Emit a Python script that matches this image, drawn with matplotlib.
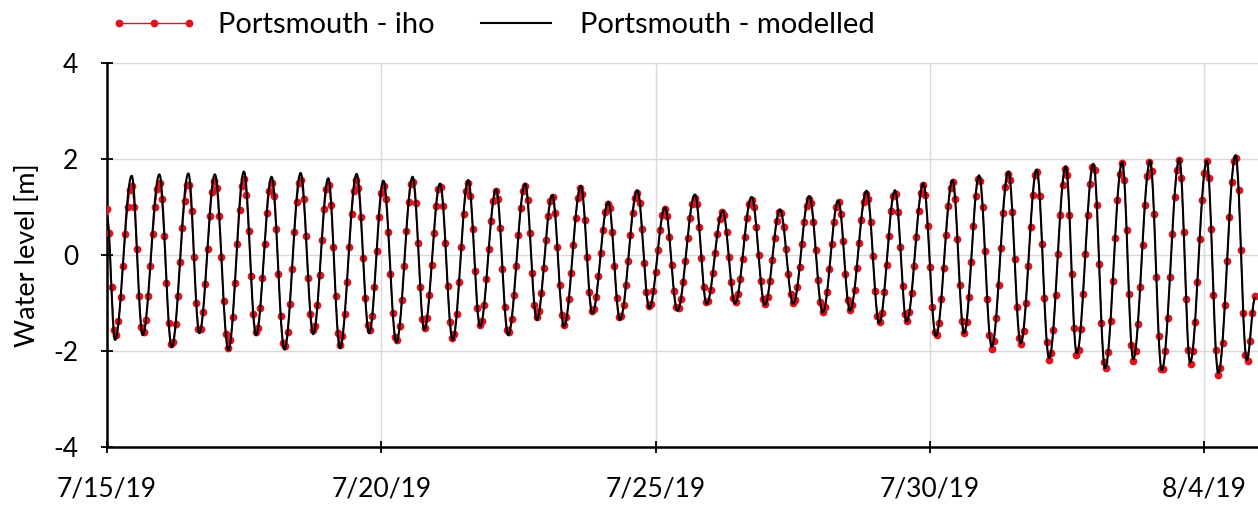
import numpy as np
import pandas as pd
import matplotlib
matplotlib.use("Agg")
import matplotlib.pyplot as plt
import matplotlib.dates as mdates
from matplotlib.ticker import FixedLocator, FuncFormatter

plt.rcParams["font.family"] = ["Lato", "DejaVu Sans"]
plt.rcParams["axes.unicode_minus"] = False

start = pd.Timestamp("2019-07-15 00:00")

# hours after 7/15 00:00
start_hour = 0.0
end_hour = 502.2
start_model, start_obs = 0.8, 0.95
end_model, end_obs = -0.9, -0.85

high_hours = [10.8, 22.9, 35.6, 47.2, 59.9, 72.0, 84.7, 96.8, 109.2, 120.9,
              133.7, 145.7, 158.0, 170.2, 182.9, 194.8, 207.3, 219.3, 232.0, 244.1,
              257.2, 269.3, 282.0, 294.4, 307.2, 319.9, 332.3, 344.7, 357.1, 369.9,
              381.5, 394.3, 406.7, 419.4, 431.5, 444.1, 456.3, 469.1, 481.1, 493.7]
high_model = [1.65, 1.68, 1.70, 1.68, 1.74, 1.63, 1.71, 1.60, 1.69, 1.55,
              1.63, 1.49, 1.56, 1.37, 1.49, 1.25, 1.44, 1.11, 1.35, 0.99,
              1.26, 0.92, 1.21, 0.95, 1.23, 1.13, 1.34, 1.35, 1.49, 1.56,
              1.66, 1.74, 1.78, 1.85, 1.90, 1.94, 1.96, 2.00, 1.96, 2.08]
high_obs = [1.45, 1.50, 1.52, 1.55, 1.58, 1.50, 1.58, 1.48, 1.56, 1.45,
            1.55, 1.45, 1.50, 1.33, 1.45, 1.22, 1.40, 1.08, 1.30, 0.95,
            1.20, 0.90, 1.15, 0.92, 1.18, 1.10, 1.28, 1.30, 1.45, 1.52,
            1.62, 1.70, 1.76, 1.82, 1.88, 1.92, 1.95, 1.98, 1.95, 2.06]

low_hours = [3.5, 15.6, 28.3, 40.4, 53.1, 65.2, 77.6, 90.2, 101.9, 114.7,
             126.6, 138.8, 151.2, 163.2, 175.5, 188.0, 199.9, 212.3, 224.4, 237.2,
             249.5, 262.3, 274.7, 287.8, 300.2, 313.1, 325.0, 337.8, 349.8, 362.6,
             374.9, 387.0, 399.7, 412.1, 424.2, 436.6, 448.9, 461.4, 473.8, 486.1,
             498.6]
low_model = [-1.77, -1.67, -1.92, -1.63, -1.98, -1.67, -1.97, -1.65, -1.94, -1.63,
             -1.82, -1.56, -1.77, -1.49, -1.67, -1.35, -1.49, -1.22, -1.35, -1.11,
             -1.16, -1.02, -1.01, -1.04, -1.02, -1.20, -1.16, -1.42, -1.39, -1.69,
             -1.63, -1.91, -1.84, -2.15, -2.05, -2.36, -2.17, -2.40, -2.24, -2.46,
             -2.19]
low_obs = [-1.70, -1.62, -1.88, -1.60, -1.93, -1.62, -1.92, -1.58, -1.88, -1.58,
           -1.80, -1.52, -1.75, -1.47, -1.63, -1.30, -1.45, -1.18, -1.32, -1.08,
           -1.12, -1.00, -0.98, -1.02, -1.00, -1.18, -1.15, -1.40, -1.38, -1.70,
           -1.62, -1.95, -1.88, -2.20, -2.10, -2.38, -2.22, -2.45, -2.28, -2.50,
           -2.25]

tick_labels_every_days = 5
y_ticks = [-4, -2, 0, 2, 4]


def extremes(first, highs, lows, last):
    t = np.array([start_hour] + high_hours + low_hours + [end_hour])
    v = np.array([first] + highs + lows + [last])
    order = np.argsort(t)
    return t[order], v[order]


def tide_curve(hours, t_ext, v_ext):
    # half-cosine between consecutive high / low waters
    idx = np.searchsorted(t_ext, hours, side="right") - 1
    idx = np.clip(idx, 0, len(t_ext) - 2)
    t0, t1 = t_ext[idx], t_ext[idx + 1]
    v0, v1 = v_ext[idx], v_ext[idx + 1]
    s = (hours - t0) / (t1 - t0)
    return v0 + (v1 - v0) * (1 - np.cos(np.pi * s)) / 2


t_mod, v_mod = extremes(start_model, high_model, low_model, end_model)
t_obs, v_obs = extremes(start_obs, high_obs, low_obs, end_obs)

hours_model = np.arange(start_hour, end_hour, 1 / 6)
hours_obs = np.arange(start_hour, end_hour, 1.0)
level_model = tide_curve(hours_model, t_mod, v_mod)
level_obs = tide_curve(hours_obs, t_obs, v_obs)

x_model = start + pd.to_timedelta(hours_model, unit="h")
x_obs = start + pd.to_timedelta(hours_obs, unit="h")

fig = plt.figure(figsize=(12.58, 5.09), dpi=100)
ax = fig.add_axes([107 / 1258, 1 - 447 / 509, 1 - 107 / 1258, (447 - 63) / 509])

ax.plot(x_obs, level_obs, color="#e0141e", lw=1.0, marker="o", ms=4.6,
        mec="#e0141e", mfc="#e0141e", label="Portsmouth - iho", zorder=3)
ax.plot(x_model, level_model, color="black", lw=1.5,
        label="Portsmouth - modelled", zorder=4)

x_end = start + pd.Timedelta(hours=(1258 - 107) / 2.286)
ax.set_xlim(start, x_end)
ax.set_ylim(-4, 4)

tick_dates = pd.date_range(start, periods=5, freq=f"{tick_labels_every_days}D")
ax.xaxis.set_major_locator(FixedLocator(mdates.date2num(tick_dates)))


def date_label(v, pos):
    d = mdates.num2date(v)
    return f"{d.month}/{d.day}/{d:%y}"


ax.xaxis.set_major_formatter(FuncFormatter(date_label))
ax.set_yticks(y_ticks)
ax.set_yticklabels([str(v) for v in y_ticks])

ax.grid(True, color="#d9d9d9", lw=1)
ax.set_axisbelow(True)
for side in ["top", "right"]:
    ax.spines[side].set_visible(False)
for side in ["left", "bottom"]:
    ax.spines[side].set_linewidth(1.8)
    ax.spines[side].set_color("black")

ax.tick_params(axis="both", direction="inout", length=9, width=1.3,
               labelsize=19, colors="black")
ax.tick_params(axis="y", pad=16)
ax.tick_params(axis="x", pad=17)

ax.set_ylabel("Water level [m]", fontsize=19.5)
ax.yaxis.set_label_coords(-0.058, 0.5)

fig.legend(loc="center left", bbox_to_anchor=(110 / 1258, 1 - 25 / 509),
           ncol=2, frameon=False, fontsize=21, numpoints=3,
           handlelength=3.0, handletextpad=0.7, columnspacing=1.3,
           borderpad=0, borderaxespad=0)

fig.savefig("out.png", dpi=100)
